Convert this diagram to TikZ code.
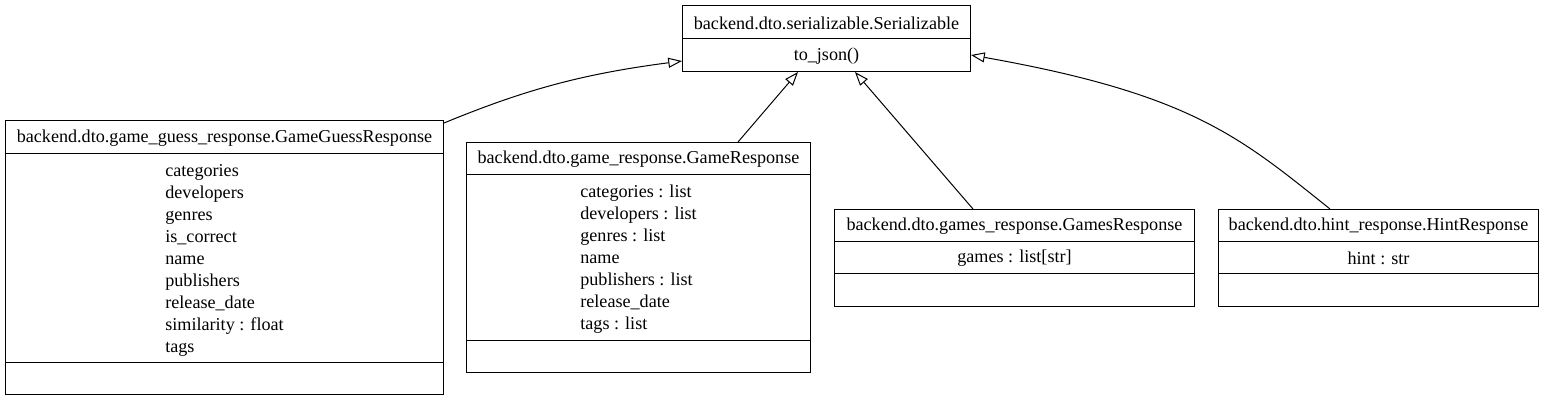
\documentclass[tikz,border=0pt]{standalone}
\usepackage{fontspec}
\setmainfont{Liberation Serif}
\usetikzlibrary{arrows.meta,calc}
\begin{document}
\begin{tikzpicture}[x=0.75pt,y=-0.75pt,
  every node/.style={font=\fontsize{13.6}{16.5}\selectfont, inner sep=0pt},
  box/.style={draw, line width=0.75pt, rectangle, anchor=north west},
  rule/.style={line width=0.75pt},
  inh/.style={line width=0.75pt, -{Triangle[open, length=10.3pt, width=7.5pt, fill=white]}}]
\useasboundingbox (0,0) rectangle (1544,401);
% boxes
\node[box, minimum width=216pt, minimum height=49.5pt] (ser) at (682,5) {};
\node[box, minimum width=328.5pt, minimum height=205.5pt] (ggr) at (5,120) {};
\node[box, minimum width=258pt, minimum height=172.5pt] (gr) at (466,142) {};
\node[box, minimum width=270pt, minimum height=72.75pt] (gsr) at (834,209) {};
\node[box, minimum width=240pt, minimum height=72.75pt] (hr) at (1218,209) {};
% dividers
\draw[rule] ($(ser.north west)+(0,33)$) -- ($(ser.north east)+(0,33)$);
\draw[rule] ($(ggr.north west)+(0,33)$) -- ($(ggr.north east)+(0,33)$);
\draw[rule] ($(ggr.north west)+(0,242)$) -- ($(ggr.north east)+(0,242)$);
\draw[rule] ($(gr.north west)+(0,32)$) -- ($(gr.north east)+(0,32)$);
\draw[rule] ($(gr.north west)+(0,198)$) -- ($(gr.north east)+(0,198)$);
\draw[rule] ($(gsr.north west)+(0,32)$) -- ($(gsr.north east)+(0,32)$);
\draw[rule] ($(gsr.north west)+(0,64)$) -- ($(gsr.north east)+(0,64)$);
\draw[rule] ($(hr.north west)+(0,32)$) -- ($(hr.north east)+(0,32)$);
\draw[rule] ($(hr.north west)+(0,64)$) -- ($(hr.north east)+(0,64)$);
% texts
\node (sert) at ($(ser.north)+(0,18)$) {backend.dto.serializable.Serializable};
\node (serm) at ($(ser.north)+(0,51)$) {to\_json()};
\node (ggrt) at ($(ggr.north)+(0,18)$) {backend.dto.game\_guess\_response.GameGuessResponse};
\node[align=left] (ggra) at ($(ggr.north)+(0,140)$) {categories\\developers\\genres\\is\_correct\\name\\publishers\\release\_date\\similarity : float\\tags};
\node (grt) at ($(gr.north)+(0,17.5)$) {backend.dto.game\_response.GameResponse};
\node[align=left] (gra) at ($(gr.north)+(0,117.5)$) {categories : list\\developers : list\\genres : list\\name\\publishers : list\\release\_date\\tags : list};
\node (gsrt) at ($(gsr.north)+(0,17.5)$) {backend.dto.games\_response.GamesResponse};
\node (gsra) at ($(gsr.north)+(0,49.5)$) {games : list[str]};
\node (hrt) at ($(hr.north)+(0,17.5)$) {backend.dto.hint\_response.HintResponse};
\node (hra) at ($(hr.north)+(0,49.5)$) {hint : str};
% inheritance
\draw[inh] ($(ggr.north east)+(0,3)$) .. controls +(80,-33) and +(-100,13) .. ($(ser.north west)+(0,56)$);
\draw[inh] ($(gr.north west)+(272,0)$) -- ($(ser.south west)+(116,0)$);
\draw[inh] ($(gsr.north west)+(139,0)$) -- ($(ser.south west)+(173,0)$);
\draw[inh] ($(hr.north west)+(112,0)$) .. controls +(-90,-72) and +(220,39) .. ($(ser.north east)+(0,50)$);
\end{tikzpicture}
\end{document}
